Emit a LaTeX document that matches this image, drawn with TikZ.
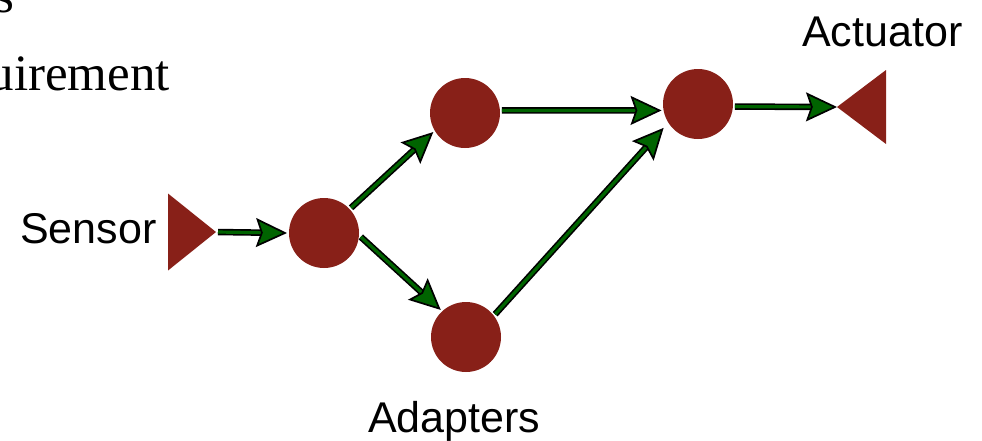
\documentclass[tikz,border=0pt]{standalone}
\usepackage{fontspec}
\setmainfont{Liberation Serif}
\newfontfamily\labelfont{Liberation Sans}
\usetikzlibrary{arrows.meta,shapes.geometric}
\definecolor{brick}{RGB}{136,32,24}
\definecolor{flowgreen}{RGB}{0,100,0}
\tikzset{
  unit/.style={circle, fill=brick, minimum size=70pt, inner sep=0pt, outer sep=2pt},
  port/.style={isosceles triangle, isosceles triangle stretches, fill=brick,
    inner sep=0pt, outer sep=0pt},
  lbl/.style={font=\labelfont\fontsize{43}{50}\selectfont, inner sep=0pt, anchor=base west},
  serif/.style={font=\fontsize{51}{60}\selectfont, inner sep=0pt, anchor=base east},
  flow/.style={
    preaction={draw=black, line width=6.5pt, arrows=-, shorten >=21pt},
    draw=flowgreen, line width=3.2pt,
    -{Stealth[length=31pt, width=29pt, inset=5pt, line width=1.7pt, color=black, fill=flowgreen]}
  }
}
\begin{document}
\begin{tikzpicture}[x=1pt, y=-1pt]
  \path[use as bounding box, clip] (0,0) rectangle (982,440);

  % heading text running off the left edge
  \node[serif] (head) at (15,12.5) {s};
  \node[serif] (req) at (170,90) {uirement};

  % processing units
  \node[unit] (n1) at (324,233) {};
  \node[unit] (n2) at (465,113) {};
  \node[unit] (n3) at (466,337) {};
  \node[unit] (n4) at (698,104) {};

  % sensor and actuator ports
  \node[port, minimum width=77pt, minimum height=48pt, anchor=apex] (sens) at (216,232) {};
  \node[port, minimum width=74pt, minimum height=49pt, shape border rotate=180, anchor=apex] (act) at (837,107) {};

  % labels
  \node[lbl] (senslbl) at (20,243) {Sensor};
  \node[lbl] (actlbl) at (802,46) {Actuator};
  \node[lbl] (adlbl) at (368,432) {Adapters};

  % data flow
  \draw[flow, shorten <=2pt] (sens.apex) -- (n1.west);
  \draw[flow] (n1.43) -- (n2.211);
  \draw[flow] (n1.-6) -- (n3.133);
  \draw[flow] (n2.4) -- (n4.190);
  \draw[flow, shorten >=5pt] (n3.38) -- (n4.213);
  \draw[flow] (n4.-4) -- (act.apex);
\end{tikzpicture}
\end{document}
